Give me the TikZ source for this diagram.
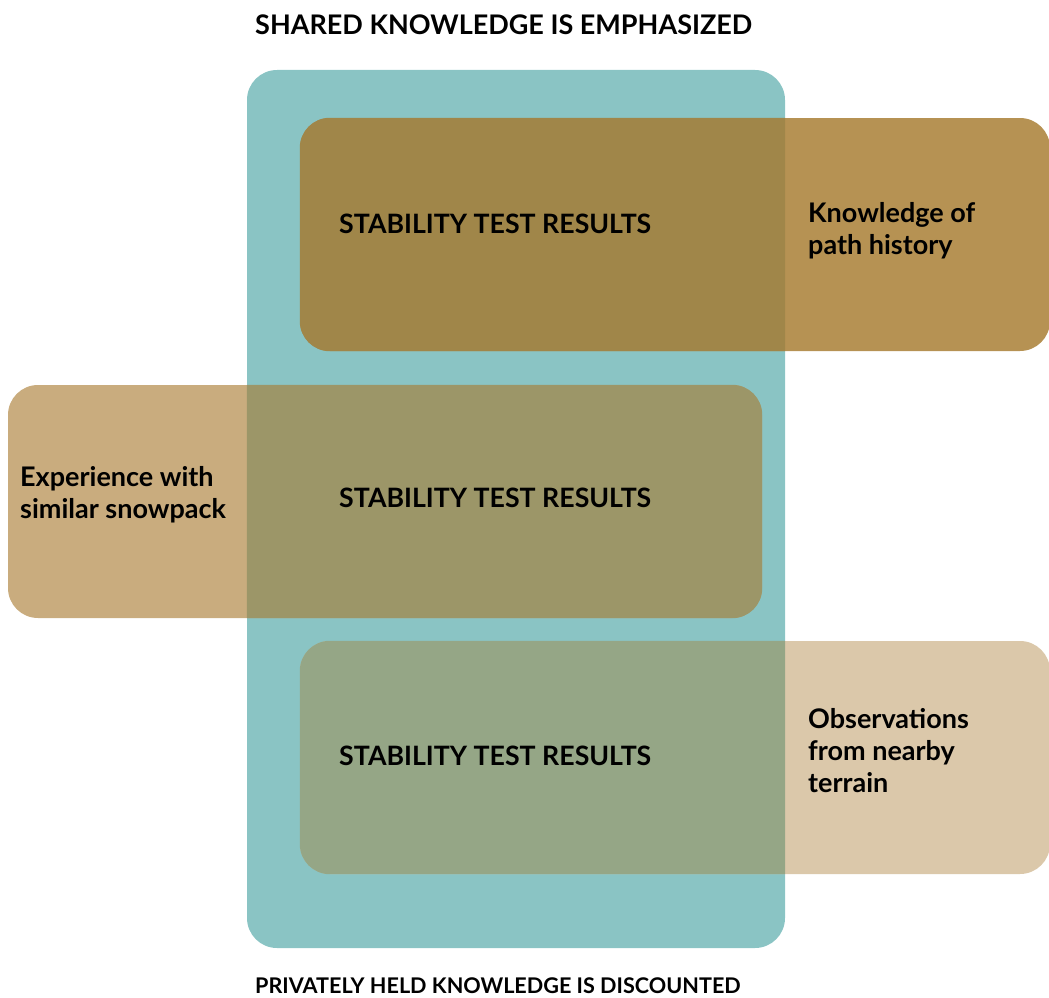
\documentclass[tikz,border=0pt]{standalone}
\usepackage{fontspec}
\setmainfont{Lato}
\usetikzlibrary{calc}
\definecolor{cus-teal}{RGB}{138,196,196}
\definecolor{cus-brown}{RGB}{182,146,83}
\definecolor{cus-brown-dk}{RGB}{160,134,73}
\definecolor{cus-tan}{RGB}{201,172,126}
\definecolor{cus-tan-dk}{RGB}{156,150,104}
\definecolor{cus-sand}{RGB}{219,200,170}
\definecolor{cus-sand-dk}{RGB}{149,166,134}
\tikzset{
	panel/.style={rectangle, rounded corners=30pt, inner sep=0pt, minimum height=233pt},
	heading/.style={anchor=west, inner sep=0pt, font=\bfseries\fontsize{27}{32}\selectfont},
	result/.style={anchor=west, inner sep=0pt, font=\bfseries\fontsize{26.7}{32}\selectfont},
	private/.style={align=left, anchor=west, inner sep=0pt, font=\bfseries\fontsize{27}{32}\selectfont}
}
% name, centre x, centre y, width, colour outside, colour over the teal, text y
\newcommand{\knowbox}[7]{
	\node [panel, fill=#5, minimum width=#4 pt] (#1) at (#2,#3) {};
	\begin{scope}
		\clip [rounded corners=30pt] (shared.south west) rectangle (shared.north east);
		\fill [#6, rounded corners=30pt] (#1.south west) rectangle (#1.north east);
	\end{scope}
	\node [result] (#1-text) at (339,#7) {STABILITY TEST RESULTS};
}

\begin{document}
\begin{tikzpicture}[x=1pt, y=-1pt]
\useasboundingbox (0,0) rectangle (1049,998);
\node [panel, fill=cus-teal, minimum width=538pt, minimum height=878pt] (shared) at (516,509) {};

\knowbox{path}{675}{234.5}{750}{cus-brown}{cus-brown-dk}{224}
\knowbox{snow}{385}{501.5}{754}{cus-tan}{cus-tan-dk}{498}
\knowbox{terrain}{675}{757.5}{750}{cus-sand}{cus-sand-dk}{756}

\node [private] (path-private) at (808,231) {Knowledge of\\path history};
\node [private] (snow-private) at (20,495) {Experience with\\similar snowpack};
\node [private] (terrain-private) at (808,751) {Observations\\from nearby\\terrain};

\node [heading] (emphasized) at (255,25) {SHARED KNOWLEDGE IS EMPHASIZED};
\node [heading, font=\bfseries\fontsize{21.6}{26}\selectfont] (discounted) at (255,986) {PRIVATELY HELD KNOWLEDGE IS DISCOUNTED};
\end{tikzpicture}
\end{document}
